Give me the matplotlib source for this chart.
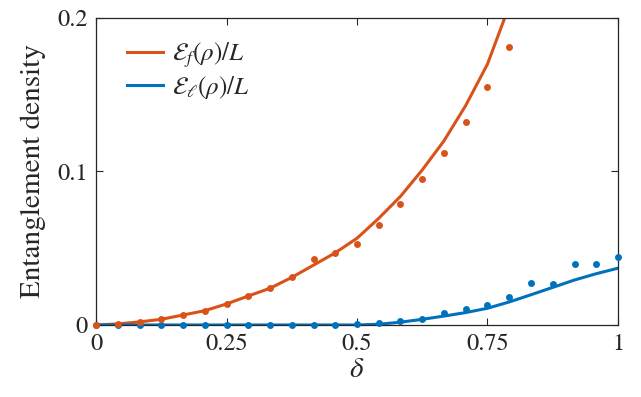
import numpy as np
import matplotlib
matplotlib.use("Agg")
import matplotlib.pyplot as plt

plt.rcParams['font.family'] = ['STIXGeneral', 'DejaVu Serif']
plt.rcParams['mathtext.fontset'] = 'stix'

# sample points delta = k/24
delta = [0.0, 0.0417, 0.0833, 0.125, 0.1667, 0.2083, 0.25, 0.2917, 0.3333,
         0.375, 0.4167, 0.4583, 0.5, 0.5417, 0.5833, 0.625, 0.6667, 0.7083,
         0.75, 0.7917, 0.8333, 0.875, 0.9167, 0.9583, 1.0]

# E_f / L : curve and dots (dots only up to 0.79)
ef_curve = [0.0, 0.0007, 0.002, 0.0037, 0.0065, 0.0093, 0.0137, 0.0189, 0.0239,
            0.031, 0.039, 0.047, 0.0565, 0.0695, 0.0838, 0.101, 0.120, 0.143,
            0.170, 0.208]
ef_dots = [0.0, 0.0007, 0.002, 0.0037, 0.0065, 0.0093, 0.0137, 0.0189, 0.0239,
           0.0311, 0.0427, 0.0467, 0.0527, 0.065, 0.0787, 0.0953, 0.112, 0.1322,
           0.1549, 0.1813]

# E_l / L : curve and dots
el_curve = [0.0, 0.0, 0.0, 0.0, 0.0, 0.0, 0.0, 0.0, 0.0, 0.0, 0.0, 0.0, 0.0,
            0.0005, 0.0018, 0.0037, 0.0058, 0.0081, 0.0109, 0.0150, 0.0197,
            0.0245, 0.0293, 0.0334, 0.037]
el_dots = [0.0, 0.0, 0.0, 0.0, 0.0, 0.0, 0.0, 0.0, 0.0, 0.0, 0.0, 0.0, 0.0007,
           0.001, 0.0026, 0.0037, 0.008, 0.0102, 0.0128, 0.0184, 0.0276, 0.0265,
           0.0397, 0.0397, 0.0441]

orange = '#D95319'
blue = '#0072BD'
axcol = '#262626'

fig = plt.figure(figsize=(6.41, 3.97), dpi=100)
ax = fig.add_axes([0.1498, 0.1814, 0.8143, 0.7733])

n_ef = len(ef_curve)
ax.plot(delta[:n_ef], ef_curve, color=orange, lw=2.2, label=r'$\mathcal{E}_f(\rho)/L$')
ax.plot(delta, el_curve, color=blue, lw=2.2, label=r'$\mathcal{E}_\ell(\rho)/L$')
ax.plot(delta, el_dots, 'o', color=blue, ms=5, mec='none', clip_on=False, zorder=3)
ax.plot(delta[:len(ef_dots)], ef_dots, 'o', color=orange, ms=5, mec='none',
        clip_on=False, zorder=3)

ax.set_xlim(0, 1)
ax.set_ylim(0, 0.2)
ax.set_xticks([0, 0.25, 0.5, 0.75, 1])
ax.set_xticklabels(['0', '0.25', '0.5', '0.75', '1'])
ax.set_yticks([0, 0.1, 0.2])
ax.set_yticklabels(['0', '0.1', '0.2'])
ax.tick_params(direction='in', length=5, width=0.8, top=True, right=True,
               labelsize=17.5, colors=axcol, pad=6)
for s in ax.spines.values():
    s.set_color(axcol)
    s.set_linewidth(0.9)

ax.set_xlabel(r'$\delta$', fontsize=21, color=axcol, labelpad=2)
ax.set_ylabel('Entanglement density', fontsize=21, color=axcol, labelpad=8)

leg = ax.legend(loc='upper left', frameon=False, fontsize=18, handlelength=1.45,
                handletextpad=0.35, labelspacing=0.15, borderaxespad=0.3,
                bbox_to_anchor=(0.025, 0.985))
for t in leg.get_texts():
    t.set_color(axcol)

fig.savefig('out.png', dpi=100)
